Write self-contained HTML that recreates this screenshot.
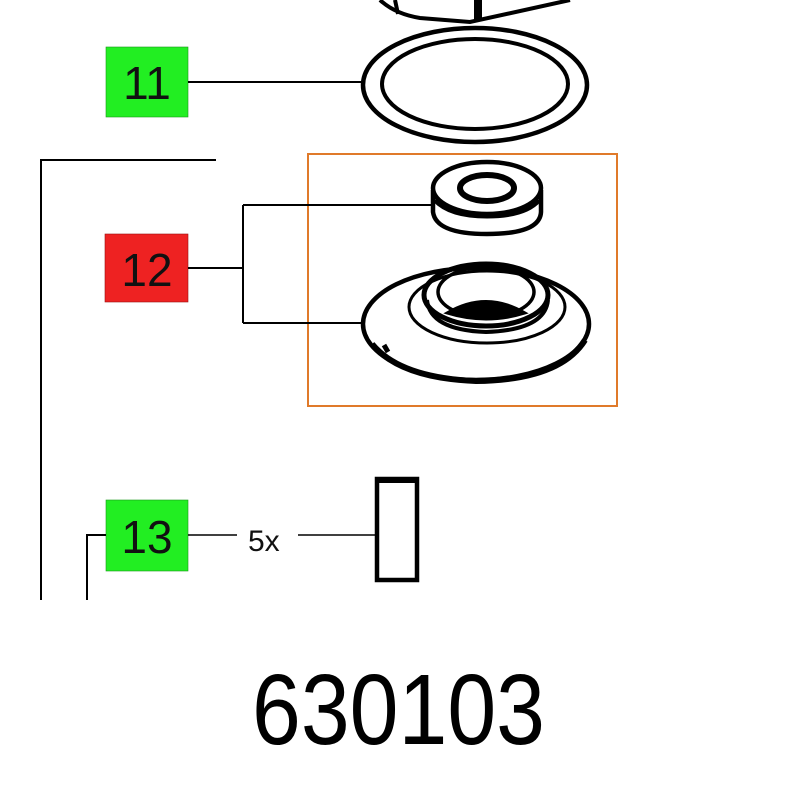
<!DOCTYPE html>
<html><head><meta charset="utf-8"><style>html,body{margin:0;padding:0;background:#fff}svg{display:block}</style></head>
<body>
<svg width="800" height="800" viewBox="0 0 800 800" xmlns="http://www.w3.org/2000/svg">
<rect width="800" height="800" fill="#fff"/>
<!-- top cut-off part -->
<g fill="none" stroke="#000" stroke-width="4">
<path d="M380 0 Q395 14 420 18 L470 22 L570 0"/>
<path d="M395 0 L398 14"/>
<path d="M476 0 L476 22"/>
<path d="M480 0 L480 20"/>
</g>
<!-- 11 -->
<rect x="106" y="47" width="82" height="70" fill="#22ee22" stroke="#1a9a1a" stroke-width="0.6"/>
<text x="147" y="99" font-family="Liberation Sans, sans-serif" font-size="46" text-anchor="middle" fill="#111">11</text>
<line x1="188" y1="82" x2="362" y2="82" stroke="#000" stroke-width="2"/>
<ellipse cx="475" cy="85" rx="112" ry="57" fill="none" stroke="#000" stroke-width="4.5"/>
<ellipse cx="475" cy="84" rx="93" ry="45" fill="none" stroke="#000" stroke-width="4"/>
<!-- bracket -->
<path d="M216 160 H41 V600" fill="none" stroke="#000" stroke-width="2"/>
<!-- orange box -->
<rect x="308" y="154" width="309" height="252" fill="none" stroke="#e07a2a" stroke-width="2"/>
<!-- 12 -->
<rect x="105" y="234" width="83" height="68" fill="#ee2222" stroke="#991111" stroke-width="0.6"/>
<text x="147" y="286" font-family="Liberation Sans, sans-serif" font-size="46" text-anchor="middle" fill="#111">12</text>
<path d="M188 268 H243 M243 205 V323 M243 205 H432 M243 323 H362" fill="none" stroke="#000" stroke-width="2"/>
<!-- bearing -->
<g fill="none" stroke="#000">
<path d="M433 190 V212 Q436 234 487 234 Q540 234 541 212 V190" stroke-width="4.5"/>
<ellipse cx="487" cy="188" rx="54" ry="26" fill="#fff" stroke-width="4.5"/>
<ellipse cx="487" cy="188" rx="27" ry="13" stroke-width="6"/>
<path d="M435 200 Q450 216 487 216 Q525 216 539 200" stroke-width="5"/>
</g>
<!-- flange -->
<g fill="none" stroke="#000">
<ellipse cx="476" cy="324" rx="113" ry="56" stroke-width="4.5"/>
<path d="M372 344 Q400 378 476 381 Q560 380 585 340" stroke-width="6"/>
<ellipse cx="487" cy="307" rx="78" ry="36" stroke-width="3"/>
<ellipse cx="486" cy="295" rx="62" ry="31" stroke-width="5"/>
<path d="M427 300 Q430 330 486 332 Q545 330 548 300" stroke-width="4"/>
<ellipse cx="486" cy="292" rx="48" ry="25" stroke-width="3.5"/>
<path d="M447 313 Q486 290 525 313 Q486 325 447 313Z" fill="#000" stroke-width="3"/>
<path d="M384 345 L388 352" stroke-width="5"/>
</g>
<!-- 13 -->
<rect x="106" y="500" width="82" height="71" fill="#22ee22" stroke="#1a9a1a" stroke-width="0.6"/>
<text x="147" y="553" font-family="Liberation Sans, sans-serif" font-size="46" text-anchor="middle" fill="#111">13</text>
<path d="M87 600 V535 H106" fill="none" stroke="#000" stroke-width="2"/>
<path d="M188 535 H237 M298 535 H376" fill="none" stroke="#000" stroke-width="1.5"/>
<text x="248" y="551" font-family="Liberation Sans, sans-serif" font-size="30" fill="#111">5x</text>
<path d="M377 479 H417 V580 H377 Z" fill="none" stroke="#000" stroke-width="4.5"/>
<line x1="377" y1="480" x2="417" y2="480" stroke="#000" stroke-width="6"/>
<!-- number -->
<text x="252" y="744" font-family="Liberation Sans, sans-serif" font-size="100" textLength="293" lengthAdjust="spacingAndGlyphs" fill="#000">630103</text>
</svg>
</body></html>
